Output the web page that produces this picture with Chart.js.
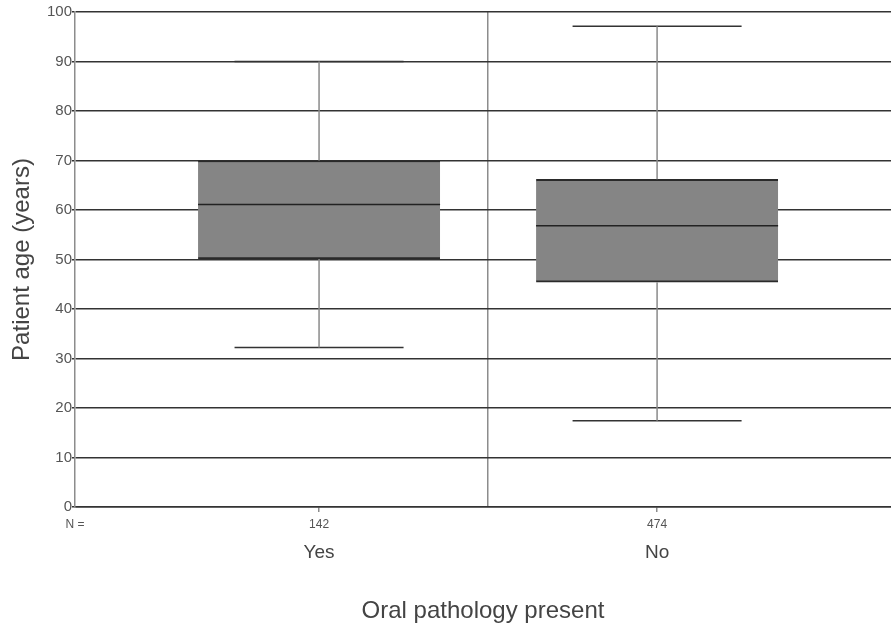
<!DOCTYPE html>
<html>
<head>
<meta charset="utf-8">
<title>Patient age by oral pathology</title>
<script src="https://cdn.jsdelivr.net/npm/chart.js@4/dist/chart.umd.min.js"></script>
<style>
  html, body { margin: 0; padding: 0; background: #ffffff; }
  #wrap { width: 891px; height: 628px; }
</style>
</head>
<body>
<div id="wrap"><canvas id="chart" width="891" height="628"></canvas></div>
<script>
// Five-number summaries of patient age per group
const categories = ['Yes', 'No'];
const nCounts = [142, 474];
const whiskerLow = [32.2, 17.4];
const quartile1 = [50.1, 45.4];
const medians = [61.1, 56.8];
const quartile3 = [70.0, 66.2];
const whiskerHigh = [90.0, 97.1];
const yTickValues = [0, 10, 20, 30, 40, 50, 60, 70, 80, 90, 100];

// Category positions on a numeric x axis (1, 2, ...)
const positions = categories.map((c, i) => i + 1);
const X_MIN = 0.278, X_MAX = 2.692;
const BOX_HALF = 0.358;   // half box width, in x units
const CAP_HALF = 0.25;    // half whisker-cap width, in x units
const DIVIDER = 1.5;

const FONT = '"Liberation Sans", Arial, sans-serif';

const lineStyle = (color) => ({
  type: 'line',
  borderColor: color,
  borderWidth: 1.5,
  pointRadius: 0,
  fill: false,
  tension: 0,
  order: 0
});

const datasets = [{
  type: 'bar',
  data: positions.map((x, i) => ({ x: x, y: [quartile1[i], quartile3[i]] })),
  backgroundColor: '#858585',
  borderColor: '#2a2a2a',
  borderWidth: { top: 2, bottom: 2, left: 0, right: 0 },
  borderSkipped: false,
  barThickness: 242,
  grouped: false,
  order: 1
}];

positions.forEach((x, i) => {
  // whiskers
  datasets.push(Object.assign(lineStyle('#8a8a8a'), {
    data: [{ x: x, y: quartile3[i] }, { x: x, y: whiskerHigh[i] }]
  }));
  datasets.push(Object.assign(lineStyle('#8a8a8a'), {
    data: [{ x: x, y: whiskerLow[i] }, { x: x, y: quartile1[i] }]
  }));
  // caps
  datasets.push(Object.assign(lineStyle('#333333'), {
    data: [{ x: x - CAP_HALF, y: whiskerHigh[i] }, { x: x + CAP_HALF, y: whiskerHigh[i] }]
  }));
  datasets.push(Object.assign(lineStyle('#333333'), {
    data: [{ x: x - CAP_HALF, y: whiskerLow[i] }, { x: x + CAP_HALF, y: whiskerLow[i] }]
  }));
  // median
  datasets.push(Object.assign(lineStyle('#222222'), {
    data: [{ x: x - BOX_HALF, y: medians[i] }, { x: x + BOX_HALF, y: medians[i] }]
  }));
});

new Chart(document.getElementById('chart'), {
  type: 'bar',
  data: { datasets: datasets },
  options: {
    responsive: false,
    animation: false,
    devicePixelRatio: 1,
    layout: { padding: { top: 12, right: 0, bottom: 0, left: 0 } },
    plugins: { legend: { display: false }, tooltip: { enabled: false } },
    scales: {
      x: {
        type: 'linear',
        position: 'bottom',
        weight: 0,
        min: X_MIN,
        max: X_MAX,
        offset: false,
        afterBuildTicks: (s) => {
          s.ticks = [{ value: X_MIN }].concat(positions.slice(0, 1).map(v => ({ value: v })),
            [{ value: DIVIDER }], positions.slice(1).map(v => ({ value: v })));
        },
        afterFit: (s) => { s.height = 28; },
        grid: {
          offset: false,
          lineWidth: 1.5,
          tickLength: 5,
          color: (ctx) => (ctx.tick && ctx.tick.value === DIVIDER) ? '#8c8c8c' : 'rgba(0,0,0,0)',
          tickColor: (ctx) => (ctx.tick && positions.includes(ctx.tick.value)) ? '#8c8c8c' : 'rgba(0,0,0,0)'
        },
        border: { display: true, color: '#333333', width: 1.6 },
        ticks: {
          autoSkip: false,
          maxRotation: 0,
          padding: 5,
          color: '#555555',
          font: { family: FONT, size: 12 },
          callback: (v) => {
            if (v === X_MIN) return 'N =';
            const i = positions.indexOf(v);
            return i >= 0 ? String(nCounts[i]) : '';
          }
        }
      },
      x2: {
        type: 'linear',
        position: 'bottom',
        weight: 1,
        min: X_MIN,
        max: X_MAX,
        offset: false,
        afterBuildTicks: (s) => { s.ticks = positions.map(v => ({ value: v })); },
        afterFit: (s) => { s.height = 93; },
        grid: { display: false, drawTicks: false },
        border: { display: false },
        ticks: {
          autoSkip: false,
          maxRotation: 0,
          padding: 6,
          color: '#444444',
          font: { family: FONT, size: 19 },
          callback: (v) => categories[positions.indexOf(v)]
        },
        title: {
          display: true,
          text: 'Oral pathology present',
          color: '#444444',
          font: { family: FONT, size: 24 },
          padding: { top: 0, bottom: 2 }
        }
      },
      y: {
        type: 'linear',
        min: 0,
        max: 100,
        afterBuildTicks: (s) => { s.ticks = yTickValues.map(v => ({ value: v })); },
        afterFit: (s) => { s.width = 75; },
        grid: { color: '#333333', lineWidth: 1.6, tickLength: 3, tickColor: '#333333' },
        border: { display: true, color: '#8c8c8c', width: 1.5 },
        ticks: {
          padding: 0,
          color: '#555555',
          font: { family: FONT, size: 15 }
        },
        title: {
          display: true,
          text: 'Patient age (years)',
          color: '#444444',
          font: { family: FONT, size: 24 },
          padding: { top: 8, bottom: 0 }
        }
      }
    }
  }
});
</script>
</body>
</html>
